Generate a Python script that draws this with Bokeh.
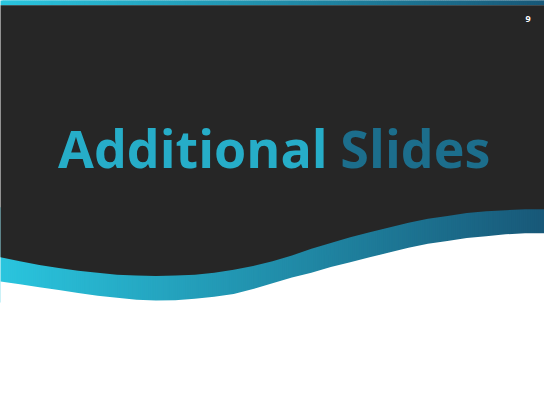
import numpy as np
from bokeh.plotting import figure
from bokeh.models import Range1d
from bokeh.core.properties import value
from bokeh.embed import file_html
from bokeh.resources import INLINE

# ---- data (slide pixel coordinates, 560x420) ----
wave_x = [0, 20, 40, 60, 80, 100, 120, 140, 160, 180, 200, 220, 240, 260, 280,
          300, 320, 340, 360, 380, 400, 420, 440, 460, 480, 500, 520, 540, 560]
wave_top = [267, 271, 275, 278, 281, 283, 285, 286, 286.5, 286, 285, 283, 280, 276, 271,
            265, 258, 252, 246, 241, 236, 231, 227, 224, 221, 219, 218, 217, 217]
wave_bottom = [292, 295, 298, 301, 304, 307, 309, 311, 312, 311.5, 310, 308, 305, 300, 294,
               288, 283, 277, 272, 267, 262, 257, 253, 250, 247, 245, 243, 242, 242]
title_words = ["Additional", "Slides"]
title_word_x = [198, 427]
title_baseline = 153
page_number = "9"

# ---- style ----
SLIDE_W, SLIDE_H = 560, 420
PAD = 20
DARK = "#262626"
C_LEFT = np.array([42, 197, 222])
C_RIGHT = np.array([24, 88, 120])


def grad(t):
    t = min(max(t, 0.0), 1.0)
    c = (C_LEFT + (C_RIGHT - C_LEFT) * t).round().astype(int)
    return "#%02x%02x%02x" % tuple(c)


p = figure(width=544, height=404, output_backend="svg", toolbar_location=None,
           x_range=Range1d(0, SLIDE_W), y_range=Range1d(SLIDE_H, 0),
           min_border=0, background_fill_color="white", border_fill_color="white",
           outline_line_color=None)
p.axis.visible = False
p.grid.visible = False

# gradient field (vertical strips, drawn as polygons) behind the wave band and the top bar
edges = np.linspace(0, SLIDE_W, 281)
edges[0] = -PAD
edges[-1] = SLIDE_W + PAD
band_top = min(wave_top) - 2
band_bot = max(wave_bottom) + 2
sx, sy, sc = [], [], []
for a, b in zip(edges[:-1], edges[1:]):
    col = grad(max(a, 0) / SLIDE_W + 1 / SLIDE_W)
    for t0, t1 in ((band_top, band_bot), (-PAD, 5)):
        sx.append([a, b + 2.0, b + 2.0, a])
        sy.append([t0, t0, t1, t1])
        sc.append(col)
p.patches(sx, sy, fill_color=sc, line_color=None)

# dark upper area bounded by the wave top edge
dark_x = [-PAD, SLIDE_W + PAD, SLIDE_W + PAD] + wave_x[::-1] + [-PAD]
dark_y = [5, 5, wave_top[-1]] + wave_top[::-1] + [wave_top[0]]
p.patch(dark_x, dark_y, fill_color=DARK, line_color=None)

# white lower area bounded by the wave bottom edge
white_x = [-PAD] + wave_x + [SLIDE_W + PAD, SLIDE_W + PAD, -PAD]
white_y = [wave_bottom[0]] + wave_bottom + [wave_bottom[-1], SLIDE_H + PAD, SLIDE_H + PAD]
p.patch(white_x, white_y, fill_color="white", line_color=None)

# title
title_cols = [grad(0.22), grad(0.80)]
for w, x, c in zip(title_words, title_word_x, title_cols):
    p.text(x=[x], y=[title_baseline], text=[w], text_color=c,
           text_font=value("Open Sans"), text_font_style="bold",
           text_font_size="52px", text_align="center", text_baseline="alphabetic")

# page number
p.text(x=[543], y=[19], text=[page_number], text_color="white",
       text_font=value("Open Sans"), text_font_style="bold",
       text_font_size="9px", text_align="center", text_baseline="middle")

open("out.html", "w").write(file_html(p, INLINE))
